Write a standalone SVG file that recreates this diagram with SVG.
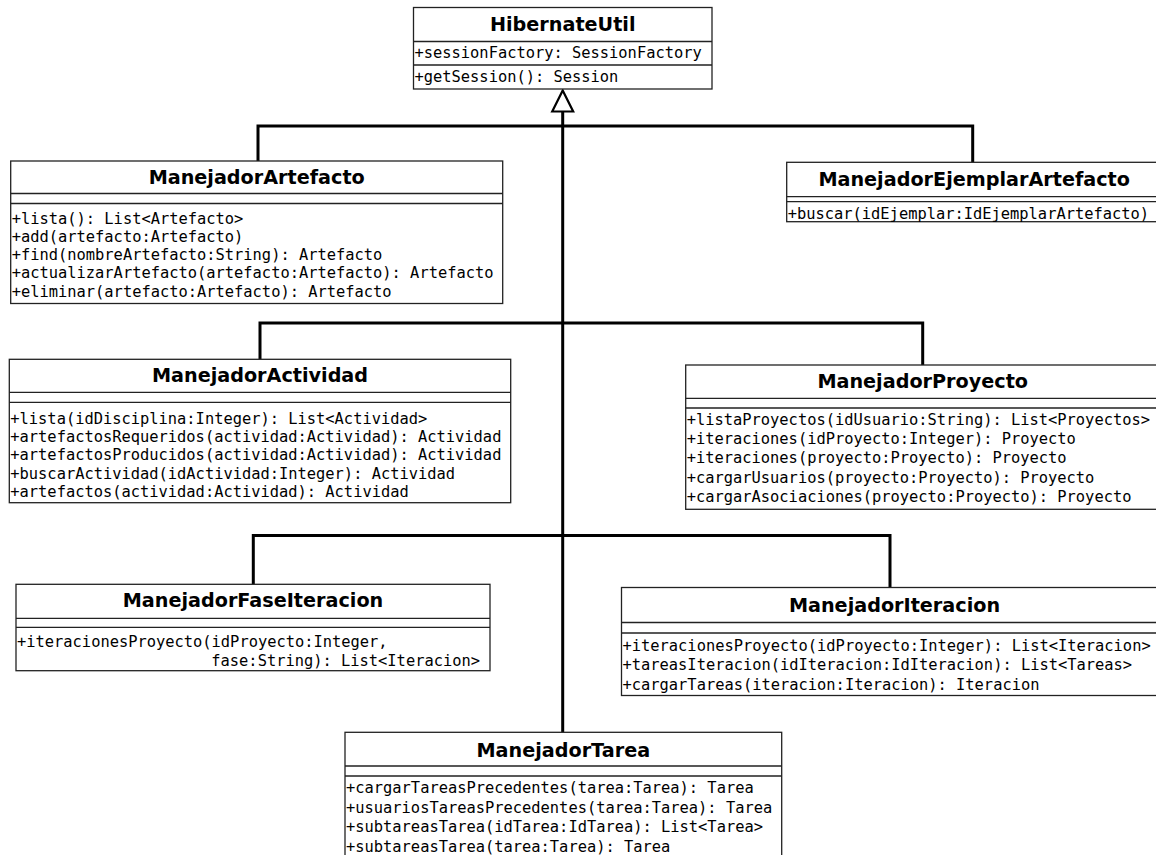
<svg xmlns="http://www.w3.org/2000/svg" width="1156" height="855" viewBox="0 0 1156 855">
  <style>
    .box { fill: #ffffff; stroke: #222222; stroke-width: 1.3; }
    .sep { stroke: #222222; stroke-width: 1.3; fill: none; }
    .title { font-family: "DejaVu Sans", "Liberation Sans", sans-serif; font-weight: bold; font-size: 19.2px; fill: #000; text-anchor: middle; }
    .member { font-family: "DejaVu Sans Mono", "Liberation Mono", monospace; font-size: 15.4px; fill: #000; }
    .link { fill: none; stroke: #000; stroke-width: 3; }
  </style>
  <defs>
    <marker id="inherit" viewBox="0 0 21 21" markerWidth="21" markerHeight="21" markerUnits="userSpaceOnUse" refX="0" refY="10.5" orient="auto" overflow="visible">
      <path d="M0,0 L21,10.5 L0,21 Z" fill="#ffffff" stroke="#000" stroke-width="2.2" stroke-linejoin="miter"/>
    </marker>
  </defs>
  <rect width="1156" height="855" fill="#ffffff"/>

  <!-- generalization connectors -->
  <g id="connectors">
    <path class="link" d="M562.7,732.3 V111.5" marker-end="url(#inherit)"/>
    <path class="link" d="M258,161 V126 H972.7 V162.3"/>
    <path class="link" d="M260,359.3 V323 H922.7 V365"/>
    <path class="link" d="M253.3,584.3 V535.5 H890 V587.5"/>
  </g>

  <g id="HibernateUtil">
    <rect class="box" x="413.5" y="7.5" width="298.5" height="81.5"/>
    <path class="sep" d="M413.5,41.5 H712 M413.5,65 H712"/>
    <text class="title" x="562.75" y="30.5">HibernateUtil</text>
    <text class="member" x="414.5" y="57.5">+sessionFactory: SessionFactory</text>
    <text class="member" x="414.5" y="81.5">+getSession(): Session</text>
  </g>

  <g id="ManejadorArtefacto">
    <rect class="box" x="10.7" y="161" width="492" height="142.5"/>
    <path class="sep" d="M10.7,193.5 H502.7 M10.7,203.5 H502.7"/>
    <text class="title" x="256.7" y="183.5">ManejadorArtefacto</text>
    <text class="member" x="11.7" y="223.5">+lista(): List&lt;Artefacto&gt;</text>
    <text class="member" x="11.7" y="241.8">+add(artefacto:Artefacto)</text>
    <text class="member" x="11.7" y="260.1">+find(nombreArtefacto:String): Artefacto</text>
    <text class="member" x="11.7" y="278.4">+actualizarArtefacto(artefacto:Artefacto): Artefacto</text>
    <text class="member" x="11.7" y="296.7">+eliminar(artefacto:Artefacto): Artefacto</text>
  </g>

  <g id="ManejadorEjemplarArtefacto">
    <rect class="box" x="786.7" y="162.3" width="375" height="59.4"/>
    <path class="sep" d="M786.7,196.7 H1161.7 M786.7,201.7 H1161.7"/>
    <text class="title" x="974.2" y="185.7">ManejadorEjemplarArtefacto</text>
    <text class="member" x="787.7" y="219">+buscar(idEjemplar:IdEjemplarArtefacto)</text>
  </g>

  <g id="ManejadorActividad">
    <rect class="box" x="9.3" y="359.3" width="501.4" height="143.4"/>
    <path class="sep" d="M9.3,392.3 H510.7 M9.3,402.3 H510.7"/>
    <text class="title" x="260" y="382.3">ManejadorActividad</text>
    <text class="member" x="10.3" y="424">+lista(idDisciplina:Integer): List&lt;Actividad&gt;</text>
    <text class="member" x="10.3" y="442.2">+artefactosRequeridos(actividad:Actividad): Actividad</text>
    <text class="member" x="10.3" y="460.4">+artefactosProducidos(actividad:Actividad): Actividad</text>
    <text class="member" x="10.3" y="478.5">+buscarActividad(idActividad:Integer): Actividad</text>
    <text class="member" x="10.3" y="496.7">+artefactos(actividad:Actividad): Actividad</text>
  </g>

  <g id="ManejadorProyecto">
    <rect class="box" x="685.7" y="365" width="474" height="144.3"/>
    <path class="sep" d="M685.7,398.3 H1159.7 M685.7,408 H1159.7"/>
    <text class="title" x="922.7" y="388.3">ManejadorProyecto</text>
    <text class="member" x="686.7" y="425">+listaProyectos(idUsuario:String): List&lt;Proyectos&gt;</text>
    <text class="member" x="686.7" y="444.2">+iteraciones(idProyecto:Integer): Proyecto</text>
    <text class="member" x="686.7" y="463.4">+iteraciones(proyecto:Proyecto): Proyecto</text>
    <text class="member" x="686.7" y="482.5">+cargarUsuarios(proyecto:Proyecto): Proyecto</text>
    <text class="member" x="686.7" y="501.7">+cargarAsociaciones(proyecto:Proyecto): Proyecto</text>
  </g>

  <g id="ManejadorFaseIteracion">
    <rect class="box" x="16" y="584.3" width="474" height="86.4"/>
    <path class="sep" d="M16,618.3 H490 M16,627.3 H490"/>
    <text class="title" x="253" y="607.3">ManejadorFaseIteracion</text>
    <text class="member" x="17" y="646.7">+iteracionesProyecto(idProyecto:Integer,</text>
    <text class="member" x="211.3" y="665.7">fase:String): List&lt;Iteracion&gt;</text>
  </g>

  <g id="ManejadorIteracion">
    <rect class="box" x="621.5" y="587.5" width="545.5" height="108"/>
    <path class="sep" d="M621.5,622.5 H1167 M621.5,633 H1167"/>
    <text class="title" x="894.5" y="611.5">ManejadorIteracion</text>
    <text class="member" x="622.5" y="651.2">+iteracionesProyecto(idProyecto:Integer): List&lt;Iteracion&gt;</text>
    <text class="member" x="622.5" y="670.4">+tareasIteracion(idIteracion:IdIteracion): List&lt;Tareas&gt;</text>
    <text class="member" x="622.5" y="689.5">+cargarTareas(iteracion:Iteracion): Iteracion</text>
  </g>

  <g id="ManejadorTarea">
    <rect class="box" x="345" y="732.3" width="436.7" height="140"/>
    <path class="sep" d="M345,766 H781.7 M345,776 H781.7"/>
    <text class="title" x="563.3" y="756.7">ManejadorTarea</text>
    <text class="member" x="346" y="793.3">+cargarTareasPrecedentes(tarea:Tarea): Tarea</text>
    <text class="member" x="346" y="812.8">+usuariosTareasPrecedentes(tarea:Tarea): Tarea</text>
    <text class="member" x="346" y="832.3">+subtareasTarea(idTarea:IdTarea): List&lt;Tarea&gt;</text>
    <text class="member" x="346" y="851.7">+subtareasTarea(tarea:Tarea): Tarea</text>
  </g>
</svg>
